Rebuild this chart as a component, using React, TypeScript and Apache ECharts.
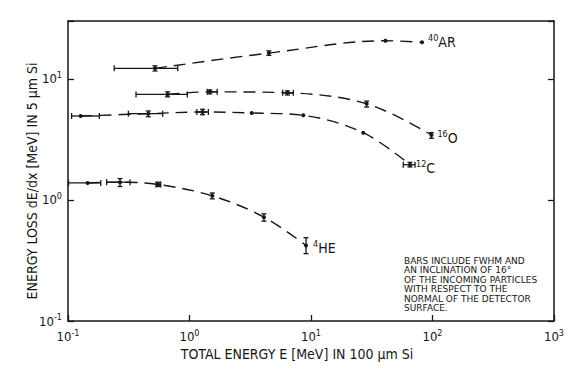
import React, { useEffect, useRef } from "react";
import * as echarts from "echarts";

// ---- data ----
// each row: x, y, xLo, xHi, yLo, yHi   (0 = no bar)
const arX = [0.52, 4.5, 41, 82];
const arY = [12.2, 16.3, 20.6, 20.0];
const arXLo = [0.24, 0, 0, 0];
const arXHi = [0.8, 0, 0, 0];
const arYLo = [11.6, 15.6, 0, 0];
const arYHi = [12.8, 17.0, 0, 0];

const oX = [0.66, 1.47, 6.4, 28.7, 98];
const oY = [7.43, 7.8, 7.66, 6.22, 3.44];
const oXLo = [0.363, 1.4, 5.85, 0, 0];
const oXHi = [0.96, 1.69, 7.15, 0, 0];
const oYLo = [7.1, 7.5, 7.35, 5.84, 3.23];
const oYHi = [7.8, 8.1, 7.95, 6.54, 3.59];

const cX = [0.127, 0.458, 1.28, 3.25, 8.64, 26.9, 65.3];
const cY = [4.93, 5.15, 5.32, 5.22, 4.99, 3.59, 1.95];
const cXLo = [0.107, 0.314, 1.15, 0, 0, 0, 57.5];
const cXHi = [0.181, 0.602, 1.43, 0, 0, 0, 71.8];
const cYLo = [0, 4.86, 5.05, 0, 0, 0, 1.87];
const cYHi = [0, 5.42, 5.6, 0, 0, 0, 2.04];

const heX = [0.145, 0.268, 0.553, 1.54, 4.1, 9.1];
const heY = [1.38, 1.4, 1.34, 1.08, 0.72, 0.42];
const heXLo = [0.101, 0.208, 0.53, 0, 0, 0];
const heXHi = [0.186, 0.324, 0.58, 0, 0, 0];
const heYLo = [0, 1.29, 1.29, 1.02, 0.667, 0.36];
const heYHi = [0, 1.5, 1.4, 1.14, 0.767, 0.487];

const seriesNames = ["40AR", "16O", "12C", "4HE"];
const labelSup = ["40", "16", "12", "4"];
const labelMain = ["AR", "O", "C", "HE"];

const xTicks = [0.1, 1, 10, 100, 1000];
const yTicks = [0.1, 1, 10];

const note = [
  "BARS INCLUDE FWHM AND",
  "AN INCLINATION OF 16°",
  "OF THE INCOMING PARTICLES",
  "WITH RESPECT TO THE",
  "NORMAL OF THE DETECTOR",
  "SURFACE.",
];

const FONT = "'DejaVu Sans Condensed', 'DejaVu Sans', sans-serif";
const NOTE_FONT = "'DejaVu Sans', sans-serif";
const INK = "#161616";

function rows(x: number[], y: number[], xl: number[], xh: number[], yl: number[], yh: number[]) {
  return x.map((v, i) => [v, y[i], xl[i], xh[i], yl[i], yh[i]]);
}

const groups = [
  rows(arX, arY, arXLo, arXHi, arYLo, arYHi),
  rows(oX, oY, oXLo, oXHi, oYLo, oYHi),
  rows(cX, cY, cXLo, cXHi, cYLo, cYHi),
  rows(heX, heY, heXLo, heXHi, heYLo, heYHi),
];

const labelDist = [[6, 0], [6, 3], [6, 3], [7, 2]];

function powLabel(v: number) {
  const e = Math.log10(v);
  const r = Math.round(e);
  if (Math.abs(e - r) > 1e-6) return "";
  return `{b|10}{s|${r}}`;
}

const richTick = {
  b: { fontFamily: FONT, fontSize: 13, color: INK },
  s: { fontFamily: FONT, fontSize: 9, color: INK, padding: [0, 0, 8, 0] },
};

export default function App() {
  const ref = useRef<HTMLDivElement>(null);
  useEffect(() => {
    document.body.style.margin = "0";
    if (!ref.current) return;
    const chart = echarts.init(ref.current, undefined, { renderer: "svg" });

    const lineSeries = groups.map((g, i) => ({
      type: "line",
      name: seriesNames[i],
      data: g.map((r) => [r[0], r[1]]),
      smooth: 0.35,
      showSymbol: false,
      symbol: "none",
      lineStyle: { color: INK, width: 1.4, type: [12, 7] },
      endLabel: {
        show: true,
        distance: labelDist[i][0],
        offset: [0, labelDist[i][1]],
        formatter: () => `{s|${labelSup[i]}}{b|${labelMain[i]}}`,
        rich: {
          b: { fontFamily: FONT, fontSize: 14, color: INK },
          s: { fontFamily: FONT, fontSize: 9, color: INK, padding: [0, 0, 8, 0] },
        },
      },
      z: 2,
    }));

    const barSeries = groups.map((g, i) => ({
      type: "custom",
      name: seriesNames[i] + " bars",
      data: g,
      encode: { x: 0, y: 1 },
      renderItem: (params: any, api: any) => {
        const x = api.value(0), y = api.value(1);
        const xl = api.value(2), xh = api.value(3), yl = api.value(4), yh = api.value(5);
        const c = api.coord([x, y]);
        const st = { stroke: INK, lineWidth: 1.3 };
        const children: any[] = [
          { type: "circle", shape: { cx: c[0], cy: c[1], r: 2 }, style: { fill: INK } },
        ];
        const cap = 3;
        if (xl > 0 && xh > 0) {
          const a = api.coord([xl, y]), b = api.coord([xh, y]);
          children.push({ type: "line", shape: { x1: a[0], y1: a[1], x2: b[0], y2: b[1] }, style: st });
          children.push({ type: "line", shape: { x1: a[0], y1: a[1] - cap, x2: a[0], y2: a[1] + cap }, style: st });
          children.push({ type: "line", shape: { x1: b[0], y1: b[1] - cap, x2: b[0], y2: b[1] + cap }, style: st });
        }
        if (yl > 0 && yh > 0) {
          const a = api.coord([x, yl]), b = api.coord([x, yh]);
          children.push({ type: "line", shape: { x1: a[0], y1: a[1], x2: b[0], y2: b[1] }, style: st });
          children.push({ type: "line", shape: { x1: a[0] - 2.5, y1: a[1], x2: a[0] + 2.5, y2: a[1] }, style: st });
          children.push({ type: "line", shape: { x1: b[0] - 2.5, y1: b[1], x2: b[0] + 2.5, y2: b[1] }, style: st });
        }
        return { type: "group", children };
      },
      z: 3,
    }));

    const axisLine = { show: true, lineStyle: { color: INK, width: 1.5 } };

    chart.setOption({
      animation: false,
      backgroundColor: "#ffffff",
      grid: { left: 68, right: 27, top: 21, bottom: 65 },
      xAxis: [
        {
          type: "log",
          logBase: 10,
          min: xTicks[0],
          max: xTicks[xTicks.length - 1],
          axisLine,
          axisTick: { show: true, inside: true, length: 6, lineStyle: { color: INK, width: 1.3 } },
          minorTick: { show: false },
          splitLine: { show: false },
          axisLabel: { formatter: powLabel, rich: richTick, margin: 7 },
        },
        {
          type: "log",
          logBase: 10,
          position: "top",
          min: xTicks[0],
          max: xTicks[xTicks.length - 1],
          axisLine,
          axisTick: { show: false },
          axisLabel: { show: false },
          splitLine: { show: false },
        },
      ],
      yAxis: [
        {
          type: "log",
          logBase: 10,
          min: yTicks[0],
          max: 30,
          axisLine,
          axisTick: { show: true, inside: true, length: 6, lineStyle: { color: INK, width: 1.3 } },
          splitLine: { show: false },
          axisLabel: { formatter: powLabel, rich: richTick, margin: 6 },
        },
        {
          type: "log",
          logBase: 10,
          position: "right",
          min: yTicks[0],
          max: 30,
          axisLine,
          axisTick: { show: true, inside: true, length: 6, lineStyle: { color: INK, width: 1.3 } },
          splitLine: { show: false },
          axisLabel: { show: false },
        },
      ],
      series: [...lineSeries, ...barSeries],
      graphic: [
        {
          type: "text",
          x: 297,
          y: 354,
          style: {
            text: "TOTAL ENERGY E [MeV] IN 100 µm Si",
            font: `14px ${FONT}`,
            fill: INK,
            textAlign: "center",
            textVerticalAlign: "middle",
          },
        },
        {
          type: "text",
          x: 32,
          y: 181,
          rotation: Math.PI / 2,
          style: {
            text: "ENERGY LOSS dE/dx [MeV] IN 5 µm Si",
            font: `14px ${FONT}`,
            fill: INK,
            textAlign: "center",
            textVerticalAlign: "middle",
          },
        },
        ...note.map((t, i) => ({
          type: "text",
          x: 404,
          y: 256 + i * 9.5,
          style: {
            text: t,
            font: `9px ${NOTE_FONT}`,
            fill: INK,
            textAlign: "left",
            textVerticalAlign: "top",
          },
        })),
      ],
    });
    return () => chart.dispose();
  }, []);
  return <div ref={ref} style={{ width: 581, height: 386 }} />;
}
